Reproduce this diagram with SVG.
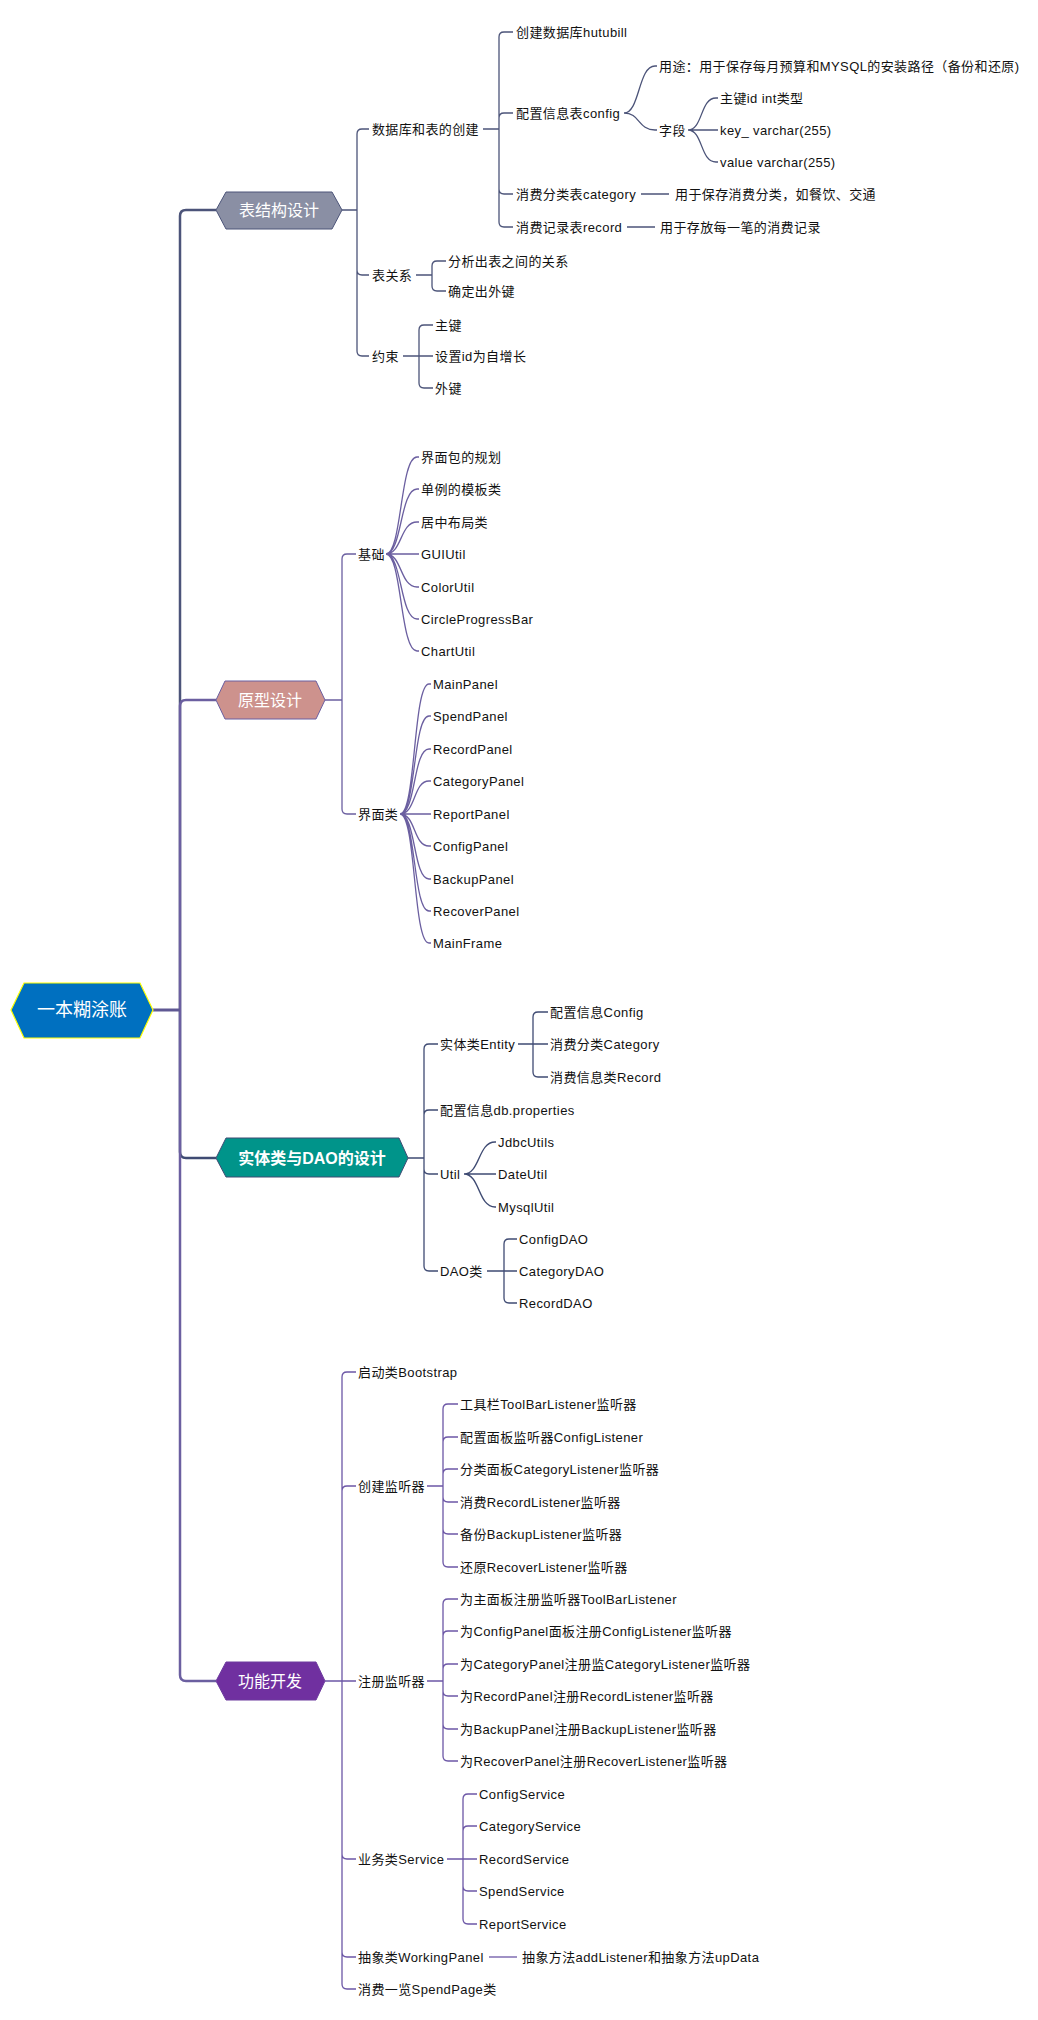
<svg xmlns="http://www.w3.org/2000/svg" width="1038" height="2020" viewBox="0 0 1038 2020">
<style>
.t{font-family:'Liberation Sans','Noto Sans CJK SC',sans-serif;font-size:13px;letter-spacing:0.4px;fill:#111;dominant-baseline:central}
.h{font-family:'Liberation Sans','Noto Sans CJK SC',sans-serif;font-size:16px;fill:#fff;dominant-baseline:central;text-anchor:middle}
.c1{fill:none;stroke:#4c5479;stroke-width:1.3}
.c2{fill:none;stroke:#6b5fa0;stroke-width:1.3}
.c3{fill:none;stroke:#3f4b73;stroke-width:1.3}
.c4{fill:none;stroke:#6c57a6;stroke-width:1.3}
.tr{fill:none;stroke-width:2.5}
</style>
<rect width="1038" height="2020" fill="#fff"/>
<g id="connectors">
  <path class="tr" stroke="#4c5479" d="M180,1010 L180,216 Q180,210 186,210 L216,210"/>
  <path class="tr" stroke="#3f4b73" d="M180,1010 L180,1152 Q180,1158 186,1158 L216,1158"/>
  <path class="tr" stroke="#6b5fa0" d="M180,1010 L180,706 Q180,700 186,700 L216,700"/>
  <path class="tr" stroke="#6b5fa0" d="M180,1010 L180,1675 Q180,1681 186,1681 L216,1681"/>
  <path fill="none" stroke="#5f5893" stroke-width="3" d="M153,1010 L180,1010"/>
  <!-- section 1 -->
  <path class="c1" d="M342,210 L357,210 M357,134 L357,351 M357,134 Q357,129 362,129 L369,129 M357,270 Q357,275 362,275 L369,275 M357,351 Q357,356 362,356 L369,356"/>
  <path class="c1" d="M483,129 L499,129 M499,37 L499,222 M499,37 Q499,32 504,32 L513,32 M499,118 Q499,113 504,113 L513,113 M499,189 Q499,194 504,194 L513,194 M499,222 Q499,227 504,227 L513,227"/>
  <path class="c1" d="M624,113 C640,113 638,66 655,66 L657,66 M624,113 C640,113 638,130 655,130 L657,130"/>
  <path class="c1" d="M688,130 C703,130 700,98 716,98 L718,98 M688,130 L718,130 M688,130 C703,130 700,162 716,162 L718,162"/>
  <path class="c1" d="M641,194 L669,194 M627,227 L655,227"/>
  <path class="c1" d="M416,275 L432,275 M432,266 L432,286 M432,266 Q432,261 437,261 L446,261 M432,286 Q432,291 437,291 L446,291"/>
  <path class="c1" d="M403,356 L419,356 M419,330 L419,383 M419,330 Q419,325 424,325 L433,325 M419,356 L433,356 M419,383 Q419,388 424,388 L433,388"/>
  <!-- section 2 -->
  <path class="c2" d="M325,700 L342,700 M342,559 L342,809 M342,559 Q342,554 347,554 L356,554 M342,809 Q342,814 347,814 L356,814"/>
  <path class="c2" d="M386,554 C402,554 400,457 417,457 L419,457 M386,554 C402,554 400,489 417,489 L419,489 M386,554 C402,554 400,522 417,522 L419,522 M386,554 L419,554 M386,554 C402,554 400,587 417,587 L419,587 M386,554 C402,554 400,619 417,619 L419,619 M386,554 C402,554 400,651 417,651 L419,651"/>
  <path class="c2" d="M400,814 C416,814 413,684 429,684 L431,684 M400,814 C416,814 413,716 429,716 L431,716 M400,814 C416,814 413,749 429,749 L431,749 M400,814 C416,814 413,781 429,781 L431,781 M400,814 L431,814 M400,814 C416,814 413,846 429,846 L431,846 M400,814 C416,814 413,879 429,879 L431,879 M400,814 C416,814 413,911 429,911 L431,911 M400,814 C416,814 413,943 429,943 L431,943"/>
  <!-- section 3 -->
  <path class="c3" d="M408,1158 L424,1158 M424,1049 L424,1266 M424,1049 Q424,1044 429,1044 L438,1044 M424,1115 Q424,1110 429,1110 L438,1110 M424,1169 Q424,1174 429,1174 L438,1174 M424,1266 Q424,1271 429,1271 L438,1271"/>
  <path class="c3" d="M518,1044 L548,1044 M533,1017 L533,1072 M533,1017 Q533,1012 538,1012 L548,1012 M533,1072 Q533,1077 538,1077 L548,1077"/>
  <path class="c3" d="M464,1174 C480,1174 478,1142 495,1142 L496,1142 M464,1174 L496,1174 M464,1174 C480,1174 478,1207 495,1207 L496,1207"/>
  <path class="c3" d="M487,1271 L517,1271 M504,1244 L504,1298 M504,1244 Q504,1239 509,1239 L517,1239 M504,1298 Q504,1303 509,1303 L517,1303"/>
  <!-- section 4 -->
  <path class="c4" d="M325,1681 L356,1681 M342,1377 L342,1984 M342,1377 Q342,1372 347,1372 L356,1372 M342,1491 Q342,1486 347,1486 L356,1486 M342,1854 Q342,1859 347,1859 L356,1859 M342,1952 Q342,1957 347,1957 L356,1957 M342,1984 Q342,1989 347,1989 L356,1989"/>
  <path class="c4" d="M427,1486 L443,1486 M443,1409 L443,1562 M443,1409 Q443,1404 448,1404 L458,1404 M443,1442 Q443,1437 448,1437 L458,1437 M443,1474 Q443,1469 448,1469 L458,1469 M443,1497 Q443,1502 448,1502 L458,1502 M443,1529 Q443,1534 448,1534 L458,1534 M443,1562 Q443,1567 448,1567 L458,1567"/>
  <path class="c4" d="M427,1681 L443,1681 M443,1604 L443,1756 M443,1604 Q443,1599 448,1599 L458,1599 M443,1636 Q443,1631 448,1631 L458,1631 M443,1669 Q443,1664 448,1664 L458,1664 M443,1691 Q443,1696 448,1696 L458,1696 M443,1724 Q443,1729 448,1729 L458,1729 M443,1756 Q443,1761 448,1761 L458,1761"/>
  <path class="c4" d="M447,1859 L477,1859 M463,1799 L463,1919 M463,1799 Q463,1794 468,1794 L477,1794 M463,1831 Q463,1826 468,1826 L477,1826 M463,1886 Q463,1891 468,1891 L477,1891 M463,1919 Q463,1924 468,1924 L477,1924"/>
  <path class="c4" d="M489,1957 L517,1957"/>
</g>
<g id="n-root"><polygon points="11,1010 24,983 140,983 153,1010 140,1038 24,1038" fill="#0070c0" stroke="#ffff00" stroke-width="1.2"/><text class="h" x="82" y="1010" style="font-size:18px">一本糊涂账</text></g>
<g id="n-s1"><polygon points="216,210 226,192 332,192 342,210 332,229 226,229" fill="#8a8fa4" stroke="#4c5479"/><text class="h" x="279" y="210">表结构设计</text></g>
<g id="n-s2"><polygon points="216,700 225,681 316,681 325,700 316,719 225,719" fill="#cd928d" stroke="#6b5fa0"/><text class="h" x="270" y="700">原型设计</text></g>
<g id="n-s3"><polygon points="216,1158 226,1138 399,1138 408,1158 399,1177 226,1177" fill="#00948a" stroke="#3f4b73"/><text class="h" x="312" y="1158" font-weight="bold">实体类与DAO的设计</text></g>
<g id="n-s4"><polygon points="216,1681 226,1662 316,1662 325,1681 316,1700 226,1700" fill="#7030a0" stroke="#6c3a9e"/><text class="h" x="270" y="1681">功能开发</text></g>
<g id="n-1-1"><text class="t" x="372" y="129" textLength="107" lengthAdjust="spacing">数据库和表的创建</text></g>
<g id="n-1-1-1"><text class="t" x="516" y="32">创建数据库hutubill</text></g>
<g id="n-1-1-2"><text class="t" x="516" y="113">配置信息表config</text></g>
<g id="n-1-1-2-1"><text class="t" x="659" y="66">用途：用于保存每月预算和MYSQL的安装路径（备份和还原)</text></g>
<g id="n-1-1-2-2"><text class="t" x="659" y="130">字段</text></g>
<g id="n-1-1-2-2-1"><text class="t" x="720" y="98">主键id int类型</text></g>
<g id="n-1-1-2-2-2"><text class="t" x="720" y="130">key_ varchar(255)</text></g>
<g id="n-1-1-2-2-3"><text class="t" x="720" y="162">value varchar(255)</text></g>
<g id="n-1-1-3"><text class="t" x="516" y="194">消费分类表category</text></g>
<g id="n-1-1-3-1"><text class="t" x="675" y="194">用于保存消费分类，如餐饮、交通</text></g>
<g id="n-1-1-4"><text class="t" x="516" y="227">消费记录表record</text></g>
<g id="n-1-1-4-1"><text class="t" x="660" y="227">用于存放每一笔的消费记录</text></g>
<g id="n-1-2"><text class="t" x="372" y="275">表关系</text></g>
<g id="n-1-2-1"><text class="t" x="448" y="261">分析出表之间的关系</text></g>
<g id="n-1-2-2"><text class="t" x="448" y="291">确定出外键</text></g>
<g id="n-1-3"><text class="t" x="372" y="356">约束</text></g>
<g id="n-1-3-1"><text class="t" x="435" y="325">主键</text></g>
<g id="n-1-3-2"><text class="t" x="435" y="356">设置id为自增长</text></g>
<g id="n-1-3-3"><text class="t" x="435" y="388">外键</text></g>
<g id="n-2-1"><text class="t" x="358" y="554">基础</text></g>
<g id="n-2-1-1"><text class="t" x="421" y="457">界面包的规划</text></g>
<g id="n-2-1-2"><text class="t" x="421" y="489">单例的模板类</text></g>
<g id="n-2-1-3"><text class="t" x="421" y="522">居中布局类</text></g>
<g id="n-2-1-4"><text class="t" x="421" y="554">GUIUtil</text></g>
<g id="n-2-1-5"><text class="t" x="421" y="587">ColorUtil</text></g>
<g id="n-2-1-6"><text class="t" x="421" y="619">CircleProgressBar</text></g>
<g id="n-2-1-7"><text class="t" x="421" y="651">ChartUtil</text></g>
<g id="n-2-2"><text class="t" x="358" y="814">界面类</text></g>
<g id="n-2-2-1"><text class="t" x="433" y="684">MainPanel</text></g>
<g id="n-2-2-2"><text class="t" x="433" y="716">SpendPanel</text></g>
<g id="n-2-2-3"><text class="t" x="433" y="749">RecordPanel</text></g>
<g id="n-2-2-4"><text class="t" x="433" y="781">CategoryPanel</text></g>
<g id="n-2-2-5"><text class="t" x="433" y="814">ReportPanel</text></g>
<g id="n-2-2-6"><text class="t" x="433" y="846">ConfigPanel</text></g>
<g id="n-2-2-7"><text class="t" x="433" y="879">BackupPanel</text></g>
<g id="n-2-2-8"><text class="t" x="433" y="911">RecoverPanel</text></g>
<g id="n-2-2-9"><text class="t" x="433" y="943">MainFrame</text></g>
<g id="n-3-1"><text class="t" x="440" y="1044">实体类Entity</text></g>
<g id="n-3-1-1"><text class="t" x="550" y="1012">配置信息Config</text></g>
<g id="n-3-1-2"><text class="t" x="550" y="1044">消费分类Category</text></g>
<g id="n-3-1-3"><text class="t" x="550" y="1077">消费信息类Record</text></g>
<g id="n-3-2"><text class="t" x="440" y="1110">配置信息db.properties</text></g>
<g id="n-3-3"><text class="t" x="440" y="1174">Util</text></g>
<g id="n-3-3-1"><text class="t" x="498" y="1142">JdbcUtils</text></g>
<g id="n-3-3-2"><text class="t" x="498" y="1174">DateUtil</text></g>
<g id="n-3-3-3"><text class="t" x="498" y="1207">MysqlUtil</text></g>
<g id="n-3-4"><text class="t" x="440" y="1271">DAO类</text></g>
<g id="n-3-4-1"><text class="t" x="519" y="1239">ConfigDAO</text></g>
<g id="n-3-4-2"><text class="t" x="519" y="1271">CategoryDAO</text></g>
<g id="n-3-4-3"><text class="t" x="519" y="1303">RecordDAO</text></g>
<g id="n-4-1"><text class="t" x="358" y="1372">启动类Bootstrap</text></g>
<g id="n-4-2"><text class="t" x="358" y="1486">创建监听器</text></g>
<g id="n-4-2-1"><text class="t" x="460" y="1404">工具栏ToolBarListener监听器</text></g>
<g id="n-4-2-2"><text class="t" x="460" y="1437">配置面板监听器ConfigListener</text></g>
<g id="n-4-2-3"><text class="t" x="460" y="1469">分类面板CategoryListener监听器</text></g>
<g id="n-4-2-4"><text class="t" x="460" y="1502">消费RecordListener监听器</text></g>
<g id="n-4-2-5"><text class="t" x="460" y="1534">备份BackupListener监听器</text></g>
<g id="n-4-2-6"><text class="t" x="460" y="1567">还原RecoverListener监听器</text></g>
<g id="n-4-3"><text class="t" x="358" y="1681">注册监听器</text></g>
<g id="n-4-3-1"><text class="t" x="460" y="1599">为主面板注册监听器ToolBarListener</text></g>
<g id="n-4-3-2"><text class="t" x="460" y="1631">为ConfigPanel面板注册ConfigListener监听器</text></g>
<g id="n-4-3-3"><text class="t" x="460" y="1664">为CategoryPanel注册监CategoryListener监听器</text></g>
<g id="n-4-3-4"><text class="t" x="460" y="1696">为RecordPanel注册RecordListener监听器</text></g>
<g id="n-4-3-5"><text class="t" x="460" y="1729">为BackupPanel注册BackupListener监听器</text></g>
<g id="n-4-3-6"><text class="t" x="460" y="1761">为RecoverPanel注册RecoverListener监听器</text></g>
<g id="n-4-4"><text class="t" x="358" y="1859">业务类Service</text></g>
<g id="n-4-4-1"><text class="t" x="479" y="1794">ConfigService</text></g>
<g id="n-4-4-2"><text class="t" x="479" y="1826">CategoryService</text></g>
<g id="n-4-4-3"><text class="t" x="479" y="1859">RecordService</text></g>
<g id="n-4-4-4"><text class="t" x="479" y="1891">SpendService</text></g>
<g id="n-4-4-5"><text class="t" x="479" y="1924">ReportService</text></g>
<g id="n-4-5"><text class="t" x="358" y="1957">抽象类WorkingPanel</text></g>
<g id="n-4-5-1"><text class="t" x="522" y="1957">抽象方法addListener和抽象方法upData</text></g>
<g id="n-4-6"><text class="t" x="358" y="1989">消费一览SpendPage类</text></g>
</svg>
